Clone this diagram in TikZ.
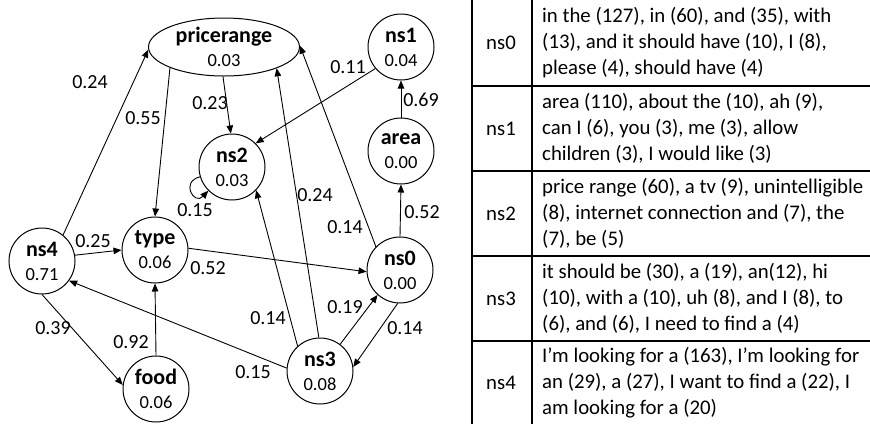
\documentclass[tikz,border=0pt]{standalone}
\usepackage{fontspec}
\setmainfont{Carlito}
\usetikzlibrary{arrows.meta,shapes.geometric}
\newcommand\stname[2]{{\fontsize{22}{24}\selectfont\bfseries #1}\\{#2}}
\begin{document}
\begin{tikzpicture}[x=1pt,y=-1pt,
  st/.style={circle,draw,line width=1pt,minimum size=66pt,inner sep=0pt,align=center,font=\fontsize{18.5}{24}\selectfont},
  ell/.style={ellipse,draw,line width=1pt,minimum width=151pt,minimum height=58pt,inner sep=0pt,align=center,font=\fontsize{18.5}{24}\selectfont},
  edge/.style={line width=0.9pt,-{Triangle[length=8pt,width=6.5pt]}},
  lab/.style={font=\fontsize{20}{24}\selectfont,inner sep=0pt},
  tabtxt/.style={font=\fontsize{20.8}{26}\selectfont,inner sep=0pt,align=left,anchor=west},
  tabkey/.style={font=\fontsize{20.8}{26}\selectfont,inner sep=0pt},
  rulel/.style={line width=1.4pt}
]
\useasboundingbox (0,0) rectangle (870,424);

% ---------- graph nodes ----------
\node[ell] (pr) at (224,47) {\stname{pricerange}{0.03}};
\node[st] (ns1) at (401,47) {\stname{ns1}{0.04}};
\node[st] (ns2) at (232,167) {\stname{ns2}{0.03}};
\node[st] (area) at (401,151) {\stname{area}{0.00}};
\node[st] (ns4) at (42,261) {\stname{ns4}{0.71}};
\node[st] (type) at (155,250) {\stname{type}{0.06}};
\node[st] (ns0) at (400,270) {\stname{ns0}{0.00}};
\node[st] (ns3) at (320,371) {\stname{ns3}{0.08}};
\node[st] (food) at (156,389) {\stname{food}{0.06}};

% ---------- edges ----------
\draw[edge] (ns4.51) -- (pr.182);
\draw[edge] (pr.201) -- (type.90);
\draw[edge] (pr.268) -- (ns2.92);
\draw[edge] (ns1.220) -- (ns2.45);
\draw[edge] (area.90) -- (ns1.270);
\draw[edge] (ns0.90) -- (area.270);
\draw[edge] (ns2.197) .. controls +(-20,5) and +(-14,15) .. (ns2.225);
\draw[edge] (ns3.132) -- (ns2.316);
\draw[edge] (ns3.92) -- (pr.338);
\draw[edge] (ns0.136) -- (pr.1);
\draw[edge] (type.3) -- (ns0.183);
\draw[edge] (ns4.10) -- (type.180);
\draw[edge] (ns3.175) -- (ns4.324);
\draw[edge] (ns4.270) -- (food.173);
\draw[edge] (food.90) -- (type.270);
\draw[edge] (ns3.53) -- (ns0.228);
\draw[edge] (ns0.266) -- (ns3.7);

% ---------- edge labels ----------
\node[lab] (l1) at (90,82) {0.24};
\node[lab] (l2) at (143,118) {0.55};
\node[lab] (l3) at (210,103) {0.23};
\node[lab] (l4) at (348,67) {0.11};
\node[lab] (l5) at (421,100) {0.69};
\node[lab] (l6) at (422,212) {0.52};
\node[lab] (l7) at (195,210) {0.15};
\node[lab] (l8) at (268,318) {0.14};
\node[lab] (l9) at (315,195) {0.24};
\node[lab] (l10) at (345,227) {0.14};
\node[lab] (l11) at (208,268) {0.52};
\node[lab] (l12) at (93,241) {0.25};
\node[lab] (l13) at (253,372) {0.15};
\node[lab] (l14) at (53,328) {0.39};
\node[lab] (l15) at (131,342) {0.92};
\node[lab] (l16) at (345,307) {0.19};
\node[lab] (l17) at (405,328) {0.14};

% ---------- table ----------
\draw[rulel] (472,0) -- (472,424);
\draw[rulel] (532,0) -- (532,424);
\foreach \yy in {86,171,256,341} {\draw[rulel] (472,\yy) -- (870,\yy);}

\node[tabkey] (k0) at (501,43) {ns0};
\node[tabkey] (k1) at (501,128.5) {ns1};
\node[tabkey] (k2) at (501,213.5) {ns2};
\node[tabkey] (k3) at (501,298.5) {ns3};
\node[tabkey] (k4) at (501,383) {ns4};

\node[tabtxt] (t0) at (542,43) {in the (127), in (60), and (35), with\\(13), and it should have (10), I (8),\\please (4), should have (4)};
\node[tabtxt] (t1) at (542,128.5) {area (110), about the (10), ah (9),\\can I (6), you (3), me (3), allow\\children (3), I would like (3)};
\node[tabtxt] (t2) at (542,213.5) {price range (60), a tv (9), unintelligible\\(8), internet connection and (7), the\\(7), be (5)};
\node[tabtxt] (t3) at (542,298.5) {it should be (30), a (19), an(12), hi\\(10), with a (10), uh (8), and I (8), to\\(6), and (6), I need to find a (4)};
\node[tabtxt] (t4) at (542,383) {I’m looking for a (163), I’m looking for\\an (29), a (27), I want to find a (22), I\\am looking for a (20)};
\end{tikzpicture}
\end{document}
